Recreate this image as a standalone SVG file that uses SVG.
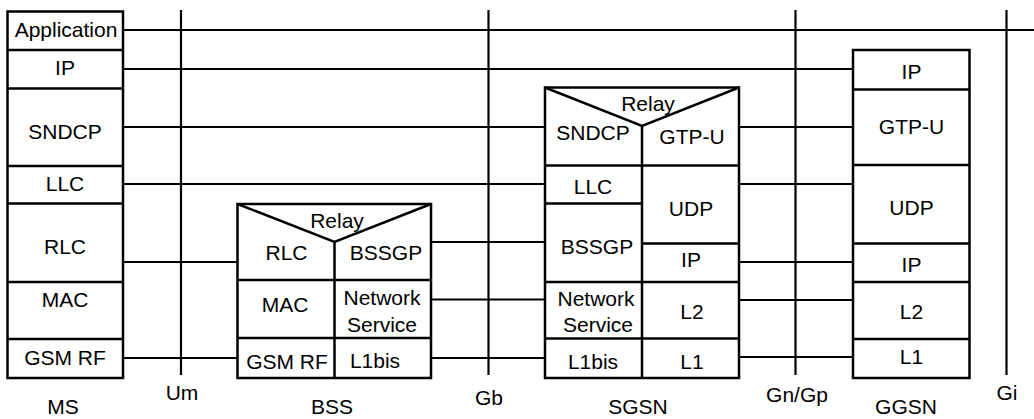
<svg xmlns="http://www.w3.org/2000/svg" width="1034" height="419" viewBox="0 0 1034 419">
<style>
text{font-family:"Liberation Sans",Arial,sans-serif;font-size:21px;fill:#000;text-anchor:middle}
.box{fill:#fff;stroke:#000;stroke-width:2.5}
.div{stroke:#000;stroke-width:2.5;fill:none}
.ln{stroke:#000;stroke-width:2;fill:none}
.if{stroke:#000;stroke-width:2.2;fill:none}
</style>
<rect width="1034" height="419" fill="#fff"/>
<g id="connectors">
<line class="ln" x1="123" y1="30" x2="1034" y2="30"/>
<line class="ln" x1="123" y1="69" x2="853" y2="69"/>
<line class="ln" x1="123" y1="127" x2="545" y2="127"/>
<line class="ln" x1="123" y1="184" x2="545" y2="184"/>
<line class="ln" x1="123" y1="262" x2="237" y2="262"/>
<line class="ln" x1="123" y1="358" x2="237" y2="358"/>
<line class="ln" x1="431" y1="242" x2="545" y2="242"/>
<line class="ln" x1="431" y1="299.5" x2="545" y2="299.5"/>
<line class="ln" x1="431" y1="358" x2="545" y2="358"/>
<line class="ln" x1="739" y1="127" x2="853" y2="127"/>
<line class="ln" x1="739" y1="184" x2="853" y2="184"/>
<line class="ln" x1="739" y1="262" x2="853" y2="262"/>
<line class="ln" x1="739" y1="300" x2="853" y2="300"/>
<line class="ln" x1="739" y1="357" x2="853" y2="357"/>
</g>
<g id="interfaces">
<line class="if" x1="181" y1="10" x2="181" y2="375"/>
<line class="if" x1="488.5" y1="10" x2="488.5" y2="375"/>
<line class="if" x1="795.5" y1="10" x2="795.5" y2="375"/>
<line class="if" x1="1006.5" y1="10" x2="1006.5" y2="375"/>
<text x="182" y="400">Um</text>
<text x="489" y="405">Gb</text>
<text x="797" y="401.5">Gn/Gp</text>
<text x="1007" y="400">Gi</text>
</g>
<g id="MS">
<rect class="box" x="7.5" y="11.5" width="115.5" height="366.5"/>
<path class="div" d="M7.5 50H123M7.5 88.5H123M7.5 166H123M7.5 203.5H123M7.5 282H123M7.5 339H123"/>
<text x="66" y="37">Application</text>
<text x="65" y="75">IP</text>
<text x="65" y="139">SNDCP</text>
<text x="65" y="191">LLC</text>
<text x="65" y="254">RLC</text>
<text x="65" y="307">MAC</text>
<text x="65" y="365">GSM RF</text>
<text x="63" y="414">MS</text>
</g>
<g id="BSS">
<rect class="box" x="237.5" y="204" width="193.5" height="174"/>
<path class="div" d="M237.5 204L334.5 242L431 204M334.5 242V378M237.5 280H431M237.5 338H431"/>
<text x="337" y="228">Relay</text>
<text x="286.5" y="260">RLC</text>
<text x="386" y="260">BSSGP</text>
<text x="285" y="312">MAC</text>
<text x="382" y="305">Network</text>
<text x="382" y="332">Service</text>
<text x="287" y="369">GSM RF</text>
<text x="375" y="368">L1bis</text>
<text x="332" y="414">BSS</text>
</g>
<g id="SGSN">
<rect class="box" x="545" y="87.5" width="194" height="290.5"/>
<path class="div" d="M545 87.5L642 126L739 87.5M642 126V378M545 165.5H739M545 203.5H642M642 243.5H739M545 282H739M545 338.5H739"/>
<text x="648" y="111">Relay</text>
<text x="593" y="140">SNDCP</text>
<text x="692" y="144">GTP-U</text>
<text x="593" y="194">LLC</text>
<text x="691" y="216">UDP</text>
<text x="597" y="254">BSSGP</text>
<text x="691" y="267">IP</text>
<text x="596" y="306">Network</text>
<text x="598" y="332">Service</text>
<text x="692" y="319">L2</text>
<text x="593" y="369">L1bis</text>
<text x="692" y="369">L1</text>
<text x="638" y="414">SGSN</text>
</g>
<g id="GGSN">
<rect class="box" x="853" y="50" width="116.5" height="328"/>
<path class="div" d="M853 89.5H969.5M853 165H969.5M853 243.5H969.5M853 282H969.5M853 339H969.5"/>
<text x="911.5" y="79">IP</text>
<text x="911.5" y="134">GTP-U</text>
<text x="911.5" y="215">UDP</text>
<text x="911.5" y="272">IP</text>
<text x="911.5" y="319">L2</text>
<text x="911.5" y="364">L1</text>
<text x="906" y="414">GGSN</text>
</g>
</svg>
